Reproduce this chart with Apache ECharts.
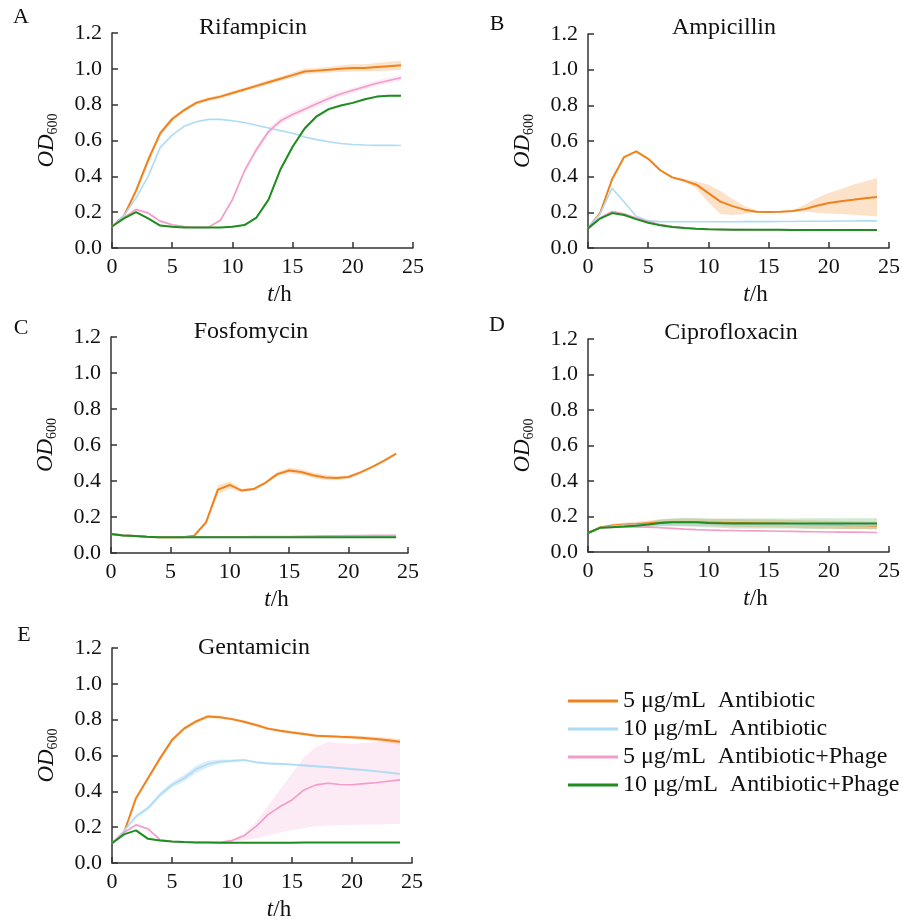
<!DOCTYPE html>
<html><head><meta charset="utf-8">
<script src="https://cdn.jsdelivr.net/npm/echarts@6/dist/echarts.min.js"></script>
<style>html,body{margin:0;padding:0;background:#fff}#c{width:903px;height:922px}</style>
</head><body><div id="c"></div>
<script>
// ---------- DATA ----------
const T = [0,1,2,3,4,5,6,7,8,9,10,11,12,13,14,15,16,17,18,19,20,21,22,23,24];
const seriesNames = ['5 μg/mL  Antibiotic','10 μg/mL  Antibiotic','5 μg/mL  Antibiotic+Phage','10 μg/mL  Antibiotic+Phage'];
const panelTitles = ['Rifampicin','Ampicillin','Fosfomycin','Ciprofloxacin','Gentamicin'];
const panelLetters = ['A','B','C','D','E'];

// A Rifampicin
const A_orange = [0.12,0.18,0.32,0.49,0.64,0.72,0.77,0.81,0.83,0.845,0.865,0.885,0.905,0.925,0.945,0.965,0.985,0.99,0.995,1.0,1.005,1.005,1.01,1.015,1.02];
const A_blue   = [0.12,0.18,0.28,0.40,0.56,0.63,0.68,0.705,0.718,0.718,0.71,0.70,0.685,0.67,0.655,0.64,0.62,0.605,0.593,0.583,0.578,0.575,0.573,0.573,0.572];
const A_pink   = [0.12,0.17,0.215,0.195,0.15,0.13,0.12,0.115,0.115,0.155,0.27,0.43,0.55,0.65,0.71,0.745,0.775,0.805,0.835,0.86,0.88,0.90,0.92,0.935,0.95];
const A_green  = [0.12,0.165,0.20,0.165,0.125,0.118,0.115,0.115,0.115,0.115,0.118,0.128,0.17,0.27,0.44,0.565,0.667,0.735,0.775,0.795,0.81,0.83,0.845,0.85,0.85];
const A_orange_sd = [0,0.005,0.015,0.02,0.015,0.012,0.01,0.01,0.01,0.01,0.01,0.01,0.012,0.012,0.012,0.015,0.015,0.015,0.015,0.018,0.02,0.02,0.022,0.025,0.025];
const A_pink_sd   = [0,0.005,0.01,0.01,0.008,0.005,0.005,0.005,0.005,0.008,0.012,0.015,0.018,0.018,0.018,0.018,0.018,0.018,0.018,0.015,0.015,0.015,0.015,0.015,0.015];
const A_green_sd  = [0,0.002,0.004,0.004,0.003,0.002,0.002,0.002,0.002,0.002,0.002,0.003,0.005,0.008,0.01,0.01,0.01,0.008,0.006,0.005,0.005,0.005,0.005,0.005,0.005];

// B Ampicillin
const B_orange = [0.11,0.195,0.385,0.51,0.542,0.50,0.436,0.396,0.378,0.355,0.308,0.26,0.235,0.215,0.203,0.202,0.203,0.208,0.218,0.237,0.252,0.262,0.27,0.279,0.286];
const B_orange_lo = [0.11,0.19,0.38,0.505,0.537,0.495,0.43,0.39,0.37,0.335,0.255,0.19,0.185,0.19,0.197,0.199,0.2,0.203,0.205,0.198,0.193,0.19,0.186,0.182,0.177];
const B_orange_hi = [0.11,0.2,0.39,0.515,0.547,0.505,0.442,0.402,0.386,0.375,0.355,0.32,0.275,0.235,0.21,0.205,0.206,0.212,0.243,0.28,0.309,0.33,0.355,0.373,0.392];
const B_blue  = [0.11,0.19,0.335,0.258,0.178,0.152,0.148,0.147,0.147,0.147,0.147,0.147,0.147,0.148,0.148,0.148,0.149,0.149,0.15,0.15,0.15,0.151,0.151,0.152,0.152];
const B_pink  = [0.11,0.168,0.205,0.192,0.168,0.148,0.132,0.12,0.113,0.108,0.105,0.104,0.103,0.103,0.102,0.102,0.102,0.102,0.102,0.102,0.102,0.102,0.102,0.102,0.102];
const B_green = [0.11,0.165,0.196,0.185,0.162,0.142,0.127,0.118,0.112,0.108,0.105,0.104,0.103,0.103,0.102,0.102,0.102,0.101,0.101,0.101,0.101,0.101,0.101,0.101,0.101];

// C Fosfomycin
const C_orange = [0.105,0.098,0.095,0.09,0.088,0.088,0.088,0.096,0.17,0.352,0.378,0.347,0.355,0.39,0.438,0.458,0.45,0.432,0.42,0.416,0.422,0.448,0.478,0.513,0.552];
const C_orange_sd = [0,0,0,0,0,0,0,0.003,0.01,0.025,0.02,0.01,0.008,0.008,0.012,0.015,0.015,0.015,0.015,0.012,0.01,0.008,0.006,0.005,0.005];
const C_blue  = [0.105,0.098,0.095,0.091,0.089,0.089,0.089,0.089,0.089,0.089,0.089,0.089,0.089,0.089,0.089,0.089,0.09,0.09,0.09,0.09,0.09,0.09,0.09,0.09,0.09];
const C_pink  = [0.105,0.098,0.095,0.091,0.089,0.089,0.089,0.089,0.09,0.09,0.09,0.09,0.091,0.091,0.092,0.092,0.093,0.094,0.095,0.096,0.097,0.097,0.098,0.098,0.098];
const C_green = [0.105,0.097,0.094,0.09,0.087,0.087,0.087,0.087,0.087,0.087,0.087,0.087,0.087,0.087,0.087,0.087,0.087,0.087,0.087,0.087,0.087,0.087,0.087,0.087,0.087];

// D Ciprofloxacin
const D_orange = [0.107,0.138,0.15,0.155,0.158,0.162,0.166,0.168,0.168,0.167,0.166,0.165,0.164,0.163,0.162,0.161,0.16,0.158,0.157,0.155,0.154,0.152,0.151,0.15,0.148];
const D_orange_sd = [0,0.005,0.008,0.01,0.012,0.015,0.018,0.02,0.02,0.02,0.02,0.022,0.022,0.022,0.022,0.022,0.022,0.022,0.022,0.022,0.022,0.022,0.022,0.022,0.022];
const D_blue  = [0.107,0.135,0.145,0.15,0.152,0.155,0.158,0.16,0.16,0.16,0.159,0.158,0.157,0.157,0.156,0.156,0.155,0.155,0.155,0.154,0.154,0.154,0.153,0.153,0.153];
const D_pink  = [0.107,0.135,0.14,0.141,0.141,0.14,0.137,0.133,0.129,0.126,0.124,0.122,0.121,0.12,0.119,0.118,0.117,0.116,0.115,0.114,0.113,0.112,0.112,0.111,0.11];
const D_green = [0.107,0.136,0.14,0.143,0.148,0.155,0.163,0.167,0.168,0.167,0.164,0.162,0.161,0.161,0.161,0.161,0.161,0.161,0.16,0.16,0.16,0.16,0.16,0.16,0.16];
const D_green_sd = [0,0.003,0.005,0.008,0.01,0.015,0.02,0.022,0.025,0.025,0.025,0.025,0.028,0.028,0.028,0.028,0.028,0.028,0.03,0.03,0.03,0.03,0.03,0.03,0.03];

// E Gentamicin
const E_orange = [0.11,0.17,0.362,0.473,0.584,0.686,0.75,0.79,0.818,0.814,0.803,0.788,0.77,0.75,0.738,0.729,0.72,0.71,0.707,0.704,0.702,0.697,0.692,0.685,0.677];
const E_orange_sd = [0,0.004,0.008,0.01,0.01,0.01,0.01,0.01,0.01,0.008,0.008,0.008,0.008,0.008,0.008,0.008,0.008,0.008,0.008,0.008,0.01,0.01,0.012,0.014,0.015];
const E_blue  = [0.11,0.18,0.26,0.306,0.38,0.436,0.473,0.523,0.553,0.566,0.57,0.575,0.562,0.556,0.553,0.55,0.545,0.54,0.535,0.53,0.524,0.519,0.512,0.505,0.497];
const E_blue_sd = [0,0.005,0.01,0.012,0.015,0.015,0.018,0.02,0.018,0.012,0.008,0.006,0.006,0.006,0.006,0.006,0.006,0.006,0.006,0.006,0.006,0.006,0.006,0.006,0.006];
const E_pink  = [0.11,0.17,0.213,0.19,0.13,0.12,0.117,0.115,0.115,0.115,0.125,0.152,0.204,0.27,0.315,0.352,0.408,0.436,0.445,0.438,0.437,0.443,0.448,0.456,0.464];
const E_pink_lo = [0.11,0.168,0.205,0.182,0.126,0.117,0.115,0.113,0.113,0.113,0.118,0.125,0.137,0.155,0.17,0.183,0.195,0.205,0.21,0.212,0.213,0.214,0.215,0.216,0.217];
const E_pink_hi = [0.11,0.172,0.22,0.198,0.134,0.123,0.119,0.117,0.117,0.117,0.135,0.165,0.23,0.32,0.41,0.5,0.59,0.648,0.675,0.668,0.665,0.67,0.675,0.68,0.682];
const E_green = [0.11,0.16,0.182,0.135,0.125,0.12,0.117,0.115,0.114,0.113,0.113,0.113,0.113,0.113,0.113,0.113,0.114,0.114,0.114,0.115,0.115,0.115,0.115,0.115,0.115];

// ---------- STYLE / LAYOUT ----------
const FONT = '"Liberation Serif","Times New Roman",serif';
const TXT = '#111';
const COLORS = ['#F0821E','#AEDBF5','#F39BC9','#1E8C1E'];
const BAND_RGBA = ['rgba(240,140,40,0.25)','rgba(150,205,240,0.35)','rgba(243,160,205,0.22)','rgba(30,140,30,0.2)'];
const WIDTHS = [2,1.6,1.6,2];

const grids = [
  {left:112, top:33,  width:301, height:215},
  {left:588, top:34,  width:304, height:214},
  {left:111, top:337, width:297, height:216},
  {left:588, top:339, width:306, height:213},
  {left:112, top:648, width:300, height:215}
];
const titlePos = [[253,28],[724,28],[251,332],[731,333],[254,648]];
const letterPos = [[21,17],[497,24],[21,328],[497,325],[24,635]];

const panelLines = [
  [A_orange,A_blue,A_pink,A_green],
  [B_orange,B_blue,B_pink,B_green],
  [C_orange,C_blue,C_pink,C_green],
  [D_orange,D_blue,D_pink,D_green],
  [E_orange,E_blue,E_pink,E_green]
];
function sdBand(mean, sd){ return {lo: mean.map((v,k)=>v-sd[k]), hi: mean.map((v,k)=>v+sd[k])}; }
const panelBands = [
  [[0, sdBand(A_orange,A_orange_sd)],[2, sdBand(A_pink,A_pink_sd)],[3, sdBand(A_green,A_green_sd)]],
  [[0, {lo:B_orange_lo, hi:B_orange_hi}]],
  [[0, sdBand(C_orange,C_orange_sd)]],
  [[0, sdBand(D_orange,D_orange_sd)],[3, sdBand(D_green,D_green_sd)]],
  [[0, sdBand(E_orange,E_orange_sd)],[1, sdBand(E_blue,E_blue_sd)],[2, {lo:E_pink_lo, hi:E_pink_hi}]]
];

const xAxes = [], yAxes = [], series = [], graphics = [];
grids.forEach((g,i)=>{
  xAxes.push({
    type:'value', gridIndex:i, min:0, max:25, interval:5,
    axisLine:{show:true, lineStyle:{color:'#333', width:1.5}},
    axisTick:{show:true, inside:true, length:6, lineStyle:{color:'#333', width:1.5}},
    splitLine:{show:false},
    axisLabel:{fontFamily:FONT, fontSize:22, color:TXT, margin:8},
    name:'{i|t}/h', nameLocation:'middle', nameGap:35,
    nameTextStyle:{fontFamily:FONT, fontSize:23, color:TXT, padding:[0,0,0,34],
      rich:{i:{fontFamily:FONT, fontSize:23, fontStyle:'italic', color:TXT}}}
  });
  yAxes.push({
    type:'value', gridIndex:i, min:0, max:1.2, interval:0.2,
    axisLine:{show:true, lineStyle:{color:'#333', width:1.5}},
    axisTick:{show:true, inside:true, length:6, lineStyle:{color:'#333', width:1.5}},
    splitLine:{show:false},
    axisLabel:{fontFamily:FONT, fontSize:22, color:TXT, margin:10, formatter:v=>v.toFixed(1)},
    name:'{i|OD}{s|600}', nameLocation:'middle', nameRotate:90, nameGap:52,
    nameTextStyle:{fontFamily:FONT, fontSize:23, color:TXT,
      rich:{i:{fontFamily:FONT, fontSize:23, fontStyle:'italic', color:TXT},
            s:{fontFamily:FONT, fontSize:14, color:TXT, padding:[12,0,0,0]}}}
  });
  panelBands[i].forEach(([ci, b])=>{
    const band = T.map((t,k)=>[t, b.lo[k], b.hi[k]]);
    series.push({type:'custom', xAxisIndex:i, yAxisIndex:i, silent:true, z:1,
      encode:{x:0, y:[1,2]}, data:band,
      renderItem:(params, api)=>{
        if (params.dataIndex !== 0) return null;
        const pts = [];
        for (let k=0;k<band.length;k++) pts.push(api.coord([band[k][0], band[k][2]]));
        for (let k=band.length-1;k>=0;k--) pts.push(api.coord([band[k][0], band[k][1]]));
        return {type:'polygon', shape:{points:pts}, style:{fill:BAND_RGBA[ci], stroke:null}};
      }});
  });
  panelLines[i].forEach((arr,ci)=>{
    series.push({name:seriesNames[ci], type:'line', xAxisIndex:i, yAxisIndex:i, symbol:'none',
      lineStyle:{color:COLORS[ci], width:WIDTHS[ci]}, itemStyle:{color:COLORS[ci]},
      data:T.map((t,k)=>[t,arr[k]]), z:3});
  });
  graphics.push({type:'text', x:titlePos[i][0], y:titlePos[i][1],
    style:{text:panelTitles[i], font:'24px '+FONT, fill:TXT, align:'center', verticalAlign:'middle'}});
  graphics.push({type:'text', x:letterPos[i][0], y:letterPos[i][1],
    style:{text:panelLetters[i], font:'22px '+FONT, fill:TXT, align:'center', verticalAlign:'middle'}});
});

const chart = echarts.init(document.getElementById('c'), null, {renderer:'canvas'});
chart.setOption({
  animation:false,
  backgroundColor:'#fff',
  grid:grids.map(g=>Object.assign({containLabel:false}, g)),
  xAxis:xAxes, yAxis:yAxes, series:series,
  legend:{orient:'vertical', left:568, top:689, padding:0, itemWidth:50, itemHeight:3, itemGap:4, icon:'rect',
    selectedMode:false, data:seriesNames,
    textStyle:{fontFamily:FONT, fontSize:24, color:TXT, lineHeight:24}},
  graphic:graphics
});
</script></body></html>
